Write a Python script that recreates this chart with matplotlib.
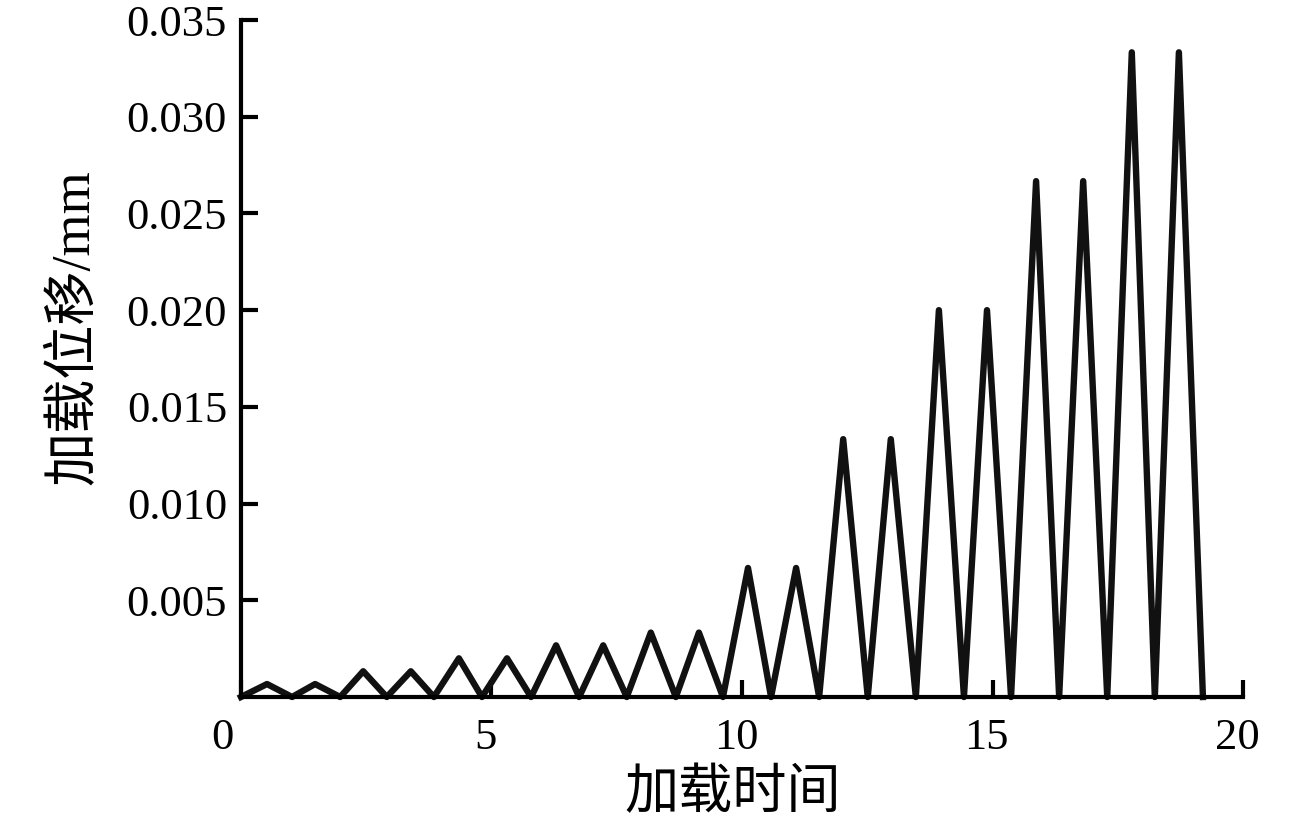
import numpy as np
import matplotlib.pyplot as plt
import matplotlib.transforms as mtransforms

plt.rcParams['font.family'] = ['Liberation Serif', 'Noto Sans CJK SC']

# times of valleys and peaks of the triangular loading wave
valley_t = [0.00, 1.02, 1.98, 2.91, 3.85, 4.81, 5.79, 6.75, 7.70, 8.68, 9.62,
            10.58, 11.54, 12.51, 13.47, 14.43, 15.37, 16.33, 17.29, 18.24, 19.20]
peak_t = [0.52, 1.48, 2.44, 3.39, 4.35, 5.31, 6.29, 7.23, 8.18, 9.14,
          10.12, 11.08, 12.02, 12.97, 13.93, 14.89, 15.87, 16.81, 17.78, 18.72]
peak_disp = [0.00067, 0.00067, 0.00133, 0.00133, 0.00200, 0.00200,
             0.00267, 0.00267, 0.00333, 0.00333, 0.00667, 0.00667,
             0.01333, 0.01333, 0.02000, 0.02000, 0.02667, 0.02667,
             0.03333, 0.03333]

xticks = [0, 5, 10, 15, 20]
yticks = [0.005, 0.010, 0.015, 0.020, 0.025, 0.030, 0.035]

# interleave valleys and peaks
t = []
d = []
for i in range(len(peak_t)):
    t += [valley_t[i], peak_t[i]]
    d += [0.0, peak_disp[i]]
t.append(valley_t[-1])
d.append(0.0)

fig = plt.figure(figsize=(12.99, 8.27), dpi=100)
ax = fig.add_axes([0.1855, 0.1572, 0.7714, 0.8186])

ax.plot(t, d, color='#111111', linewidth=4.6, solid_joinstyle='round',
        clip_on=False, zorder=3)

ax.set_xlim(0, 20)
ax.set_ylim(0, 0.035)
ax.set_xticks(xticks)
ax.set_xticklabels([str(v) for v in xticks])
ax.set_yticks(yticks)
ax.set_yticklabels(['%.3f' % v for v in yticks])

for s in ['top', 'right']:
    ax.spines[s].set_visible(False)
for s in ['left', 'bottom']:
    ax.spines[s].set_linewidth(3)
    ax.spines[s].set_zorder(4)

ax.tick_params(axis='both', direction='in', length=12, width=3,
               labelsize=32)
ax.tick_params(axis='x', pad=15)
ax.tick_params(axis='y', pad=10)

# x tick labels sit a little left of their ticks in the original
shift = mtransforms.ScaledTranslation(-7 / 100, 0, fig.dpi_scale_trans)
for i, lab in enumerate(ax.get_xticklabels()):
    dx = -19 if i == 0 else -6
    lab.set_transform(lab.get_transform() +
                      mtransforms.ScaledTranslation(dx / 100, 0, fig.dpi_scale_trans))

ax.set_xlabel('加载时间', fontsize=39)
ax.set_ylabel('加载位移/mm', fontsize=39)
ax.xaxis.set_label_coords(0.491, -0.145)
ax.yaxis.set_label_coords(-0.166, 0.547)
ax.xaxis.label.set_va('center')
ax.yaxis.label.set_va('center')

fig.savefig('out.png', dpi=100)
